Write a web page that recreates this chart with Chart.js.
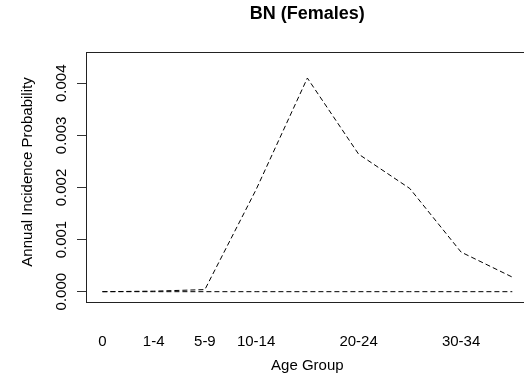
<!DOCTYPE html>
<html>
<head>
<meta charset="utf-8">
<script src="https://cdn.jsdelivr.net/npm/chart.js@4.4.1/dist/chart.umd.min.js"></script>
<style>
  html, body { margin: 0; padding: 0; background: #fff; overflow: hidden; }
  #wrap { width: 540px; height: 381px; }
</style>
</head>
<body>
<div id="wrap"><canvas id="c" width="540" height="381"></canvas></div>
<script>
// Age groups along the x axis and the labels printed under them
const ageGroups = ['0', '1-4', '5-9', '10-14', '15-19', '20-24', '25-29', '30-34', '35-39'];
const xTickLabels = ['0', '1-4', '5-9', '10-14', '', '20-24', '', '30-34', ''];

// Annual incidence probability by age group
const incidence = [0, 0.00001, 0.00004, 0.00196, 0.0041, 0.00264, 0.00198, 0.00076, 0.00028];
// Reference line at zero
const zeroLine = [0, 0, 0, 0, 0, 0, 0, 0, 0];

const yTicks = [0, 0.001, 0.002, 0.003, 0.004];

const FONT = '"Liberation Sans", Arial, Helvetica, sans-serif';

const toPoints = arr => arr.map((v, i) => ({ x: i + 1, y: v }));

// Draws the plot frame and the axis texts in base-graphics style
const frame = {
  id: 'frame',
  afterDraw(chart) {
    const { ctx, chartArea: a, scales: { x, y } } = chart;
    ctx.save();
    ctx.strokeStyle = '#222';
    ctx.lineWidth = 1;
    ctx.strokeRect(Math.round(a.left) + 0.5, Math.round(a.top) + 0.5,
                   Math.round(a.right - a.left), Math.round(a.bottom - a.top));

    ctx.fillStyle = '#000';
    ctx.font = '15px ' + FONT;
    ctx.textAlign = 'center';
    ctx.textBaseline = 'alphabetic';

    // y tick labels, parallel to the axis
    y.ticks.forEach(t => {
      const py = y.getPixelForValue(t.value);
      ctx.save();
      ctx.translate(a.left - 20.5, py);
      ctx.rotate(-Math.PI / 2);
      ctx.fillText(t.value.toFixed(3), 0, 0);
      ctx.restore();
    });

    // x tick labels
    x.ticks.forEach(t => {
      const lbl = xTickLabels[t.value - 1];
      if (lbl) ctx.fillText(lbl, x.getPixelForValue(t.value), a.bottom + 43.5);
    });

    // y axis title
    ctx.save();
    ctx.translate(a.left - 54.5, 172);
    ctx.rotate(-Math.PI / 2);
    ctx.fillText('Annual Incidence Probability', 0, 0);
    ctx.restore();

    ctx.restore();
  }
};

new Chart(document.getElementById('c'), {
  type: 'line',
  data: {
    datasets: [
      {
        label: 'Incidence',
        data: toPoints(incidence),
        borderColor: '#000',
        borderWidth: 1,
        borderDash: [5, 3],
        pointRadius: 0,
        tension: 0,
        fill: false
      },
      {
        label: 'Zero',
        data: toPoints(zeroLine),
        borderColor: '#000',
        borderWidth: 1,
        borderDash: [5, 3],
        pointRadius: 0,
        tension: 0,
        fill: false
      }
    ]
  },
  options: {
    responsive: false,
    animation: false,
    devicePixelRatio: 1,
    layout: { padding: { left: 0, right: 11.3, top: 0, bottom: 0 } },
    plugins: {
      legend: { display: false },
      tooltip: { enabled: false },
      title: {
        display: true,
        text: 'BN (Females)',
        color: '#000',
        fullSize: false,
        font: { family: FONT, size: 18, weight: 'bold' },
        padding: { top: 3.2, bottom: 27.2 }
      }
    },
    scales: {
      x: {
        type: 'linear',
        min: 0.68,
        max: 9.32,
        afterBuildTicks: s => { s.ticks = ageGroups.map((g, i) => ({ value: i + 1 })); },
        afterFit: s => { s.height = 79; },
        ticks: { display: false },
        grid: { display: false },
        border: { display: false },
        title: {
          display: true,
          text: 'Age Group',
          color: '#000',
          font: { family: FONT, size: 15 },
          padding: { top: 0, bottom: 6.2 }
        }
      },
      y: {
        type: 'linear',
        min: -0.000198,
        max: 0.0046,
        afterBuildTicks: s => { s.ticks = yTicks.map(v => ({ value: v })); },
        afterFit: s => { s.width = 86; },
        ticks: { display: false },
        grid: {
          drawOnChartArea: false,
          drawTicks: true,
          tickLength: 9,
          color: '#333',
          lineWidth: 1
        },
        border: { display: false }
      }
    }
  },
  plugins: [frame]
});
</script>
</body>
</html>
